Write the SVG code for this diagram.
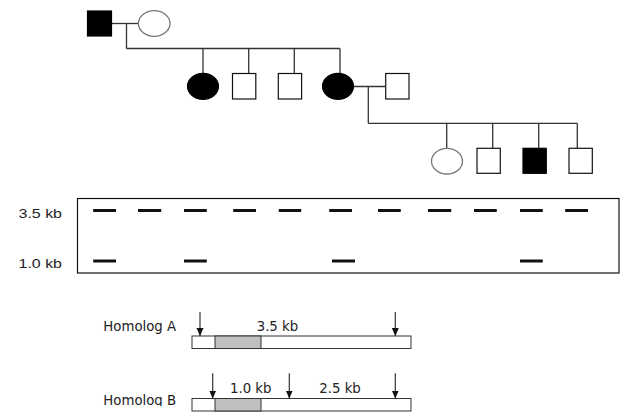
<svg xmlns="http://www.w3.org/2000/svg" width="628" height="420" viewBox="0 0 628 420">
<style>
.ln{stroke:#333;stroke-width:1.3;fill:none}
.m{fill:#fff;stroke:#111;stroke-width:1.2}
.mf{fill:#000;stroke:#000;stroke-width:1.2}
.f{fill:#fff;stroke:#777;stroke-width:1.3}
.ff{fill:#000;stroke:#000;stroke-width:1.2}
.band{stroke:#111;stroke-width:3}
.lab{font-family:"Liberation Sans",Arial,sans-serif;font-size:13px;fill:#222}
.t{font-family:"DejaVu Sans",Verdana,sans-serif;font-size:13.3px;fill:#222}
.bar{fill:#fff;stroke:#333;stroke-width:1}
.gray{fill:#c0c0c0;stroke:#333;stroke-width:1}
.arr{stroke:#333;stroke-width:1.2;fill:none;marker-end:url(#ah)}
</style>
<defs>
<marker id="ah" markerUnits="userSpaceOnUse" markerWidth="9" markerHeight="8" refX="8" refY="3.5" orient="auto">
<path d="M0,0 L8,3.5 L0,7 z" fill="#111"/>
</marker>
<clipPath id="clipB"><rect x="90" y="380" width="100" height="26"/></clipPath>
</defs>

<g id="connectors">
<line class="ln" x1="111.5" y1="23.5" x2="138.4" y2="23.5"/>
<line class="ln" x1="126.5" y1="23.5" x2="126.5" y2="48.5"/>
<line class="ln" x1="126.5" y1="48.5" x2="340" y2="48.5"/>
<line class="ln" x1="203" y1="48.5" x2="203" y2="73.5"/>
<line class="ln" x1="248.7" y1="48.5" x2="248.7" y2="73.5"/>
<line class="ln" x1="294.3" y1="48.5" x2="294.3" y2="73.5"/>
<line class="ln" x1="340" y1="48.5" x2="340" y2="73.5"/>
<line class="ln" x1="353.5" y1="86.5" x2="385.7" y2="86.5"/>
<line class="ln" x1="368.3" y1="86.5" x2="368.3" y2="123.3"/>
<line class="ln" x1="368.3" y1="123.3" x2="577.3" y2="123.3"/>
<line class="ln" x1="446.7" y1="123.3" x2="446.7" y2="148.3"/>
<line class="ln" x1="492.7" y1="123.3" x2="492.7" y2="148.3"/>
<line class="ln" x1="538.7" y1="123.3" x2="538.7" y2="148.3"/>
<line class="ln" x1="577.3" y1="123.3" x2="577.3" y2="148.3"/>
</g>

<g id="gen1-father"><rect class="mf" x="87.5" y="11" width="24" height="25"/></g>
<g id="gen1-mother"><ellipse class="f" cx="154.2" cy="23.5" rx="15.8" ry="12.8"/></g>

<g id="gen2-daughter1"><ellipse class="ff" cx="203" cy="86.3" rx="15.5" ry="13"/></g>
<g id="gen2-son1"><rect class="m" x="232.5" y="73.5" width="23.3" height="25.5"/></g>
<g id="gen2-son2"><rect class="m" x="278.3" y="73.5" width="23.3" height="25.5"/></g>
<g id="gen2-daughter2"><ellipse class="ff" cx="338" cy="86.3" rx="15.5" ry="13"/></g>
<g id="gen2-spouse"><rect class="m" x="385.7" y="73.5" width="23.3" height="25.5"/></g>

<g id="gen3-daughter"><ellipse class="f" cx="447" cy="161.2" rx="15.5" ry="12.8"/></g>
<g id="gen3-son1"><rect class="m" x="477" y="148.3" width="23.3" height="25"/></g>
<g id="gen3-son2"><rect class="mf" x="523" y="148.3" width="23.3" height="25"/></g>
<g id="gen3-son3"><rect class="m" x="569" y="148.3" width="23.3" height="25"/></g>

<g id="gel">
<rect x="77.5" y="198.5" width="541.5" height="74.5" fill="#fff" stroke="#111" stroke-width="1.2"/>
<text class="lab" x="62" y="218" text-anchor="end" textLength="43.5" lengthAdjust="spacingAndGlyphs">3.5 kb</text>
<text class="lab" x="62" y="268" text-anchor="end" textLength="43.5" lengthAdjust="spacingAndGlyphs">1.0 kb</text>
<line class="band" x1="93.2" y1="210.5" x2="116" y2="210.5"/>
<line class="band" x1="138" y1="210.5" x2="161.2" y2="210.5"/>
<line class="band" x1="184" y1="210.5" x2="206.8" y2="210.5"/>
<line class="band" x1="233.2" y1="210.5" x2="256" y2="210.5"/>
<line class="band" x1="278.8" y1="210.5" x2="301.2" y2="210.5"/>
<line class="band" x1="329.2" y1="210.5" x2="352" y2="210.5"/>
<line class="band" x1="378" y1="210.5" x2="400.8" y2="210.5"/>
<line class="band" x1="428" y1="210.5" x2="451.2" y2="210.5"/>
<line class="band" x1="474" y1="210.5" x2="496.8" y2="210.5"/>
<line class="band" x1="520" y1="210.5" x2="542.8" y2="210.5"/>
<line class="band" x1="565.2" y1="210.5" x2="588" y2="210.5"/>
<line class="band" x1="93.2" y1="261" x2="116" y2="261"/>
<line class="band" x1="184" y1="261" x2="206.8" y2="261"/>
<line class="band" x1="332" y1="261" x2="355" y2="261"/>
<line class="band" x1="520" y1="261" x2="542.8" y2="261"/>
</g>

<g id="homolog-a">
<text class="t" x="103.3" y="330.5">Homolog A</text>
<rect class="bar" x="192" y="336" width="219" height="12.5"/>
<rect class="gray" x="215" y="336" width="46" height="12.5"/>
<line class="arr" x1="200" y1="312" x2="200" y2="336"/>
<line class="arr" x1="395.3" y1="312" x2="395.3" y2="336"/>
<text class="t" x="256.7" y="330.5">3.5 kb</text>
</g>

<g id="homolog-b">
<text class="t" x="103.3" y="405" clip-path="url(#clipB)">Homolog B</text>
<rect class="bar" x="192" y="398.5" width="219" height="12.5"/>
<rect class="gray" x="215" y="398.5" width="46" height="12.5"/>
<line class="arr" x1="212.7" y1="373.3" x2="212.7" y2="398.5"/>
<line class="arr" x1="289.3" y1="373.3" x2="289.3" y2="398.5"/>
<line class="arr" x1="395.3" y1="373.3" x2="395.3" y2="398.5"/>
<text class="t" x="230" y="392.5">1.0 kb</text>
<text class="t" x="319.3" y="392.5">2.5 kb</text>
</g>
</svg>
